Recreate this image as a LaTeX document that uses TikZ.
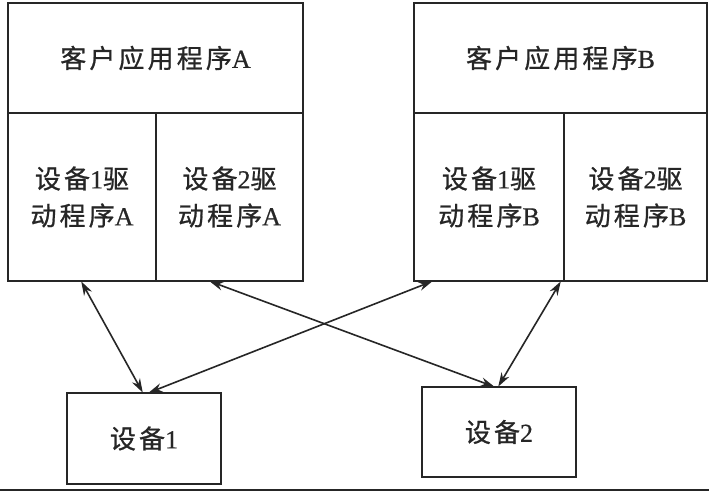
\documentclass[tikz,border=0pt]{standalone}
\usepackage{fontspec}
\setmainfont[FakeBold=0.6]{Liberation Serif}
\newfontfamily\cjk[LetterSpace=12,FakeBold=0.8]{Noto Sans CJK SC}
\newcommand\zh[1]{{\cjk #1}}
\usetikzlibrary{arrows.meta}
\definecolor{ink}{HTML}{262626}
\begin{document}
\begin{tikzpicture}[x=1pt,y=-1pt,
  box/.style={draw=ink,line width=1.8pt,rectangle,inner sep=0pt,outer sep=0pt,align=center,
    font=\fontsize{26}{37}\selectfont,text=ink},
  arr/.style={draw=ink,line width=1.6pt,{Stealth[length=14pt,width=9pt]}-{Stealth[length=14pt,width=9pt]},shorten <=0.5pt,shorten >=0.5pt}]
\useasboundingbox (0,0) rectangle (709,492);
\fill[white] (0,0) rectangle (709,492);
% client A
\node[box,minimum width=295pt,minimum height=110pt] (appA) at (155.5,58) {\zh{客户应用程序}A};
\node[box,minimum width=148pt,minimum height=168pt] (d1A) at (82,197) {\zh{设备}1\zh{驱}\\\zh{动程序}A};
\node[box,minimum width=147pt,minimum height=168pt] (d2A) at (229.5,197) {\zh{设备}2\zh{驱}\\\zh{动程序}A};
% client B
\node[box,minimum width=293pt,minimum height=110pt] (appB) at (560.5,58) {\zh{客户应用程序}B};
\node[box,minimum width=150pt,minimum height=168pt] (d1B) at (489,197) {\zh{设备}1\zh{驱}\\\zh{动程序}B};
\node[box,minimum width=143pt,minimum height=168pt] (d2B) at (635.5,197) {\zh{设备}2\zh{驱}\\\zh{动程序}B};
% devices
\node[box,minimum width=154pt,minimum height=91pt] (dev1) at (144,438.5) {\zh{设备}1};
\node[box,minimum width=154pt,minimum height=90pt] (dev2) at (499,432) {\zh{设备}2};
% connectors
\draw[arr] ([xshift=-1pt]d1A.south) -- ([xshift=-1pt]dev1.north);
\draw[arr] ([xshift=-20.5pt]d2A.south) -- ([xshift=-4pt]dev2.north);
\draw[arr] ([xshift=-56pt]d1B.south) -- ([xshift=4pt]dev1.north);
\draw[arr] ([xshift=-74.5pt]d2B.south) -- ([xshift=-1pt]dev2.north);
% bottom rule
\coordinate (ruleL) at (0,490);
\coordinate (ruleR) at (709,490);
\draw[ink,line width=2pt] (ruleL) -- (ruleR);
\end{tikzpicture}
\end{document}
